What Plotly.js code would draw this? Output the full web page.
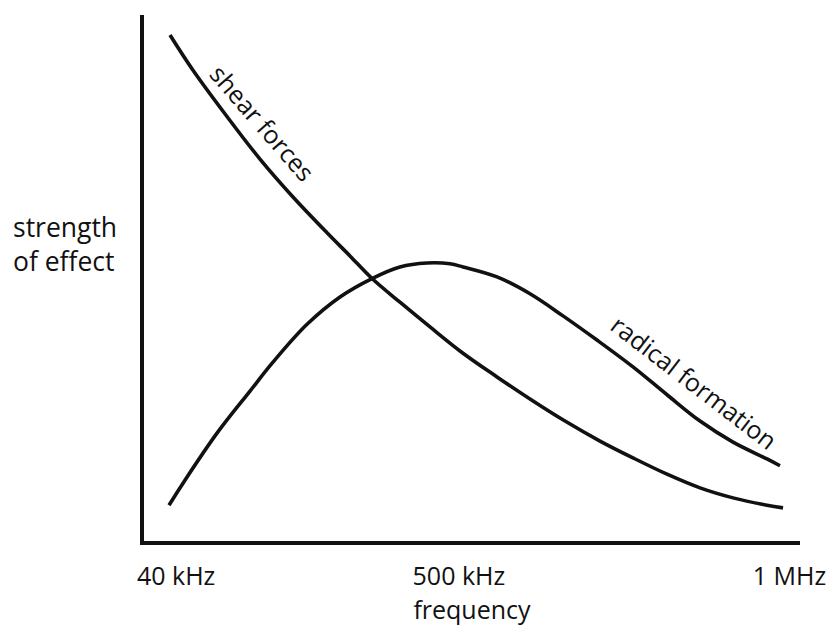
<!DOCTYPE html>
<html>
<head>
<meta charset="utf-8">
<script src="https://cdn.plot.ly/plotly-3.0.1.min.js"></script>
<style>
  html, body { margin: 0; padding: 0; background: #fff; }
  #chart { width: 827px; height: 626px; }
</style>
</head>
<body>
<div id="chart"></div>
<script>
// Relative frequency position (0-100 along the axis) and relative strength (0-100)
const shearX = [3.96, 7.47, 12.65, 17.68, 22.71, 27.90, 31.40, 34.76, 39.02, 43.60, 48.63, 53.81, 58.84, 64.18, 69.51, 74.54, 79.73, 84.76, 89.79, 94.97, 97.41];
const shearY = [96.2, 89.5, 80.7, 72.6, 65.4, 58.6, 54.2, 49.9, 45.4, 40.7, 35.7, 31.2, 27.0, 22.8, 19.0, 15.8, 12.7, 10.1, 8.2, 6.8, 6.3];

const radicalX = [3.81, 5.95, 11.13, 16.16, 19.66, 24.85, 29.88, 34.76, 39.02, 43.14, 46.65, 48.63, 53.81, 58.84, 63.87, 69.05, 74.54, 79.73, 84.76, 89.79, 94.97, 96.95];
const radicalY = [6.8, 11.0, 20.5, 28.5, 34.0, 41.2, 46.4, 49.9, 52.1, 52.85, 52.7, 52.1, 50.2, 47.0, 42.8, 38.2, 33.1, 27.8, 22.8, 18.8, 15.6, 14.3];

const tickPositions = [4.9, 48.0, 98.4];
const tickLabels = ["40 kHz", "500 kHz", "1 MHz"];

const seriesNames = ["shear forces", "radical formation"];
const xTitle = "frequency";
const yTitle = "strength<br>of effect";

const FONT = "Open Sans, sans-serif";
const INK = "#111111";

const traces = [
  { x: shearX, y: shearY, name: seriesNames[0], type: "scatter", mode: "lines",
    line: { color: INK, width: 3.6, shape: "spline", smoothing: 1 }, hoverinfo: "skip" },
  { x: radicalX, y: radicalY, name: seriesNames[1], type: "scatter", mode: "lines",
    line: { color: INK, width: 3.6, shape: "spline", smoothing: 1 }, hoverinfo: "skip" }
];

const layout = {
  width: 827, height: 626,
  margin: { l: 144, r: 27, t: 15, b: 85 },
  paper_bgcolor: "#ffffff", plot_bgcolor: "#ffffff",
  showlegend: false,
  font: { family: FONT, color: INK, size: 25 },
  xaxis: {
    range: [0, 100], showgrid: false, zeroline: false,
    showline: true, linecolor: INK, linewidth: 4,
    ticks: "", tickvals: tickPositions, ticktext: tickLabels,
    tickfont: { family: FONT, size: 25, color: INK },
    ticklabelstandoff: 10,
    title: { text: xTitle, font: { family: FONT, size: 25, color: INK }, standoff: 0 },
    fixedrange: true
  },
  yaxis: {
    range: [0, 100], showgrid: false, zeroline: false,
    showline: true, linecolor: INK, linewidth: 4,
    showticklabels: false, ticks: "", fixedrange: true
  },
  annotations: [
    { text: yTitle, xref: "paper", yref: "paper", x: -0.12, y: 0.565,
      xanchor: "center", yanchor: "middle", showarrow: false, align: "left",
      font: { family: FONT, size: 26.5, color: INK } },
    { text: seriesNames[0], xref: "x", yref: "y", x: 18.0, y: 79.6,
      showarrow: false, textangle: 49, xanchor: "center", yanchor: "middle",
      font: { family: FONT, size: 25, color: INK } },
    { text: seriesNames[1], xref: "x", yref: "y", x: 83.9, y: 30.2,
      showarrow: false, textangle: 37.5, xanchor: "center", yanchor: "middle",
      font: { family: FONT, size: 25, color: INK } }
  ]
};

Plotly.newPlot("chart", traces, layout, { staticPlot: true, displayModeBar: false });
</script>
</body>
</html>
